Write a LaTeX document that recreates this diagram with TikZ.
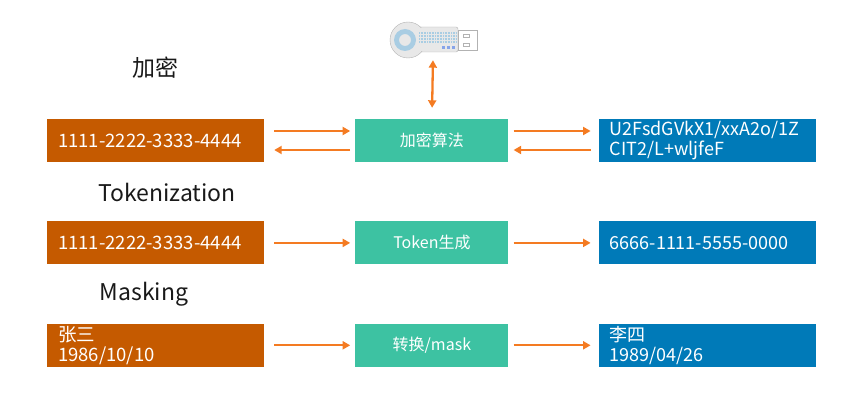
\documentclass[tikz,border=0pt]{standalone}
\usepackage{fontspec}
\setmainfont{Noto Sans CJK SC}
\usetikzlibrary{positioning,arrows.meta}
\definecolor{srcorange}{HTML}{C55A00}
\definecolor{algogreen}{HTML}{3DC2A2}
\definecolor{resblue}{HTML}{007AB8}
\definecolor{arroworange}{HTML}{F47B22}
\definecolor{keyblue}{HTML}{A9CDE3}
\tikzset{
  source/.style={fill=srcorange, text=white, font=\fontsize{18.5}{20}\selectfont,
    text width=195pt, inner xsep=11pt, inner ysep=0pt, minimum height=43pt, align=left},
  result/.style={source, fill=resblue, font=\fontsize{18}{20}\selectfont},
  algo/.style={fill=algogreen, text=white, font=\fontsize{16}{18}\selectfont,
    minimum width=153pt, minimum height=43pt, inner sep=0pt},
  flow/.style={draw=arroworange, line width=2.3pt, -{Triangle[length=7.5pt,width=8pt]}},
  dflow/.style={flow, {Triangle[length=7.5pt,width=8pt]}-{Triangle[length=7.5pt,width=8pt]}},
  caption/.style={font=\fontsize{23}{26}\selectfont, text=black!90}
}

\begin{document}
\begin{tikzpicture}[x=1pt,y=-1pt]
  \useasboundingbox (0,0) rectangle (865,409);

  \node[caption] (capenc) at (155,68) {加密};
  \node[caption] (captok) at (167,192) {Tokenization};
  \node[caption] (capmask) at (144,294) {Masking};

  \node[source] (plain1) at (155.5,140.5) {1111-2222-3333-4444};
  \node[algo, right=91pt of plain1] (enc) {加密算法};
  \node[result, right=90pt of enc] (cipher) {U2FsdGVkX1/xxA2o/1Z\\CIT2/L+wljfeF};

  \node[source, below=59pt of plain1] (plain2) {1111-2222-3333-4444};
  \node[algo, right=91pt of plain2] (token) {Token生成};
  \node[result, right=90pt of token] (tokres) {6666-1111-5555-0000};

  \node[source, below=59pt of plain2] (plain3) {张三\\1986/10/10};
  \node[algo, right=91pt of plain3] (mask) {转换/mask};
  \node[result, right=90pt of mask] (maskres) {李四\\1989/04/26};

  % usb key
  \node[minimum width=88pt, minimum height=40pt, inner sep=0pt] (key) at (433,38) {};
  \draw[gray!60, fill=gray!18, rounded corners=2pt] (408,27) rectangle (458,52);
  \draw[gray!60, fill=gray!18] (408,40) circle (18);
  \fill[gray!18] (410,27.6) rectangle (457.4,51.4);
  \fill[keyblue, even odd rule] (405,40) circle (11) (405,40) circle (6);
  \foreach \y in {33,36,39,42}
    \draw[keyblue, line width=1.5pt, dash pattern=on 1pt off 0.6pt] (419,\y) -- (456,\y);
  \foreach \x in {442,447,452}
    \fill[keyblue!80!blue] (\x,46) rectangle ++(3,3);
  \draw[gray!60, fill=white] (458,30) rectangle (477,50);
  \draw[gray!60] (463,34) rectangle (469,37) (463,43) rectangle (469,46);

  \draw[dflow, shorten <=2pt, shorten >=11pt] (key.south) -- (enc.north);

  \draw[flow, shorten <=10pt, shorten >=5pt] ([yshift=9.5pt]plain1.east) -- ([yshift=9.5pt]enc.west);
  \draw[flow, shorten <=5pt, shorten >=10pt] ([yshift=-9.5pt]enc.west) -- ([yshift=-9.5pt]plain1.east);
  \draw[flow, shorten <=5pt, shorten >=8pt] ([yshift=9.5pt]enc.east) -- ([yshift=9.5pt]cipher.west);
  \draw[flow, shorten <=8pt, shorten >=5pt] ([yshift=-9.5pt]cipher.west) -- ([yshift=-9.5pt]enc.east);

  \draw[flow, shorten <=10pt, shorten >=5pt] (plain2) -- (token);
  \draw[flow, shorten <=5pt, shorten >=8pt] (token) -- (tokres);
  \draw[flow, shorten <=10pt, shorten >=5pt] (plain3) -- (mask);
  \draw[flow, shorten <=5pt, shorten >=8pt] (mask) -- (maskres);
\end{tikzpicture}
\end{document}
